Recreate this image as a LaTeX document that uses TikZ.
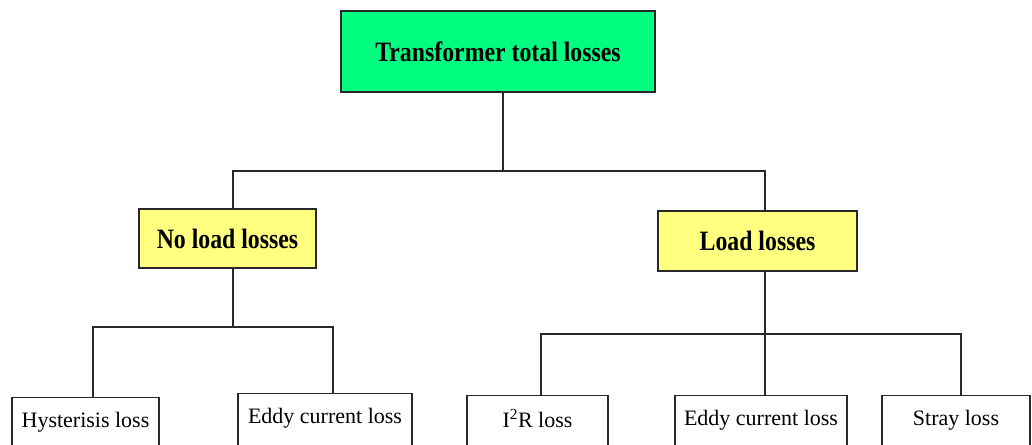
\documentclass[tikz,border=0pt]{standalone}
\usepackage{fontspec}
\setmainfont{Liberation Serif}
\newfontfamily\headfont{Liberation Serif}[FakeStretch=0.85]
\definecolor{boxgreen}{RGB}{0,255,128}
\definecolor{boxyellow}{RGB}{255,255,128}
\definecolor{edge}{RGB}{40,40,40}
\tikzset{
  box/.style={draw=edge, line width=1.3pt, rectangle, inner sep=0pt},
  headbox/.style={box, font=\headfont\bfseries\fontsize{28}{30}\selectfont},
  leafbox/.style={box, fill=white, anchor=north, minimum height=60pt, text depth=15pt, font=\fontsize{22}{24}\selectfont},
  link/.style={draw=edge, line width=1.2pt}
}
\begin{document}
\begin{tikzpicture}[x=1pt,y=-1pt]
\useasboundingbox (0,0) rectangle (1032,444);
\fill[white] (0,0) rectangle (1032,444);
\clip (0,0) rectangle (1032,444);

\node[headbox, fill=boxgreen, minimum width=314pt, minimum height=81pt] (top) at (498,51.5) {Transformer total losses};
\node[headbox, fill=boxyellow, minimum width=177pt, minimum height=59pt] (noload) at (227.5,238.5) {No load losses};
\node[headbox, fill=boxyellow, minimum width=199pt, minimum height=60pt] (load) at (757.5,241) {Load losses};

\node[leafbox, minimum width=147pt] (hyst) at (85.5,397) {Hysterisis loss};
\node[leafbox, minimum width=174pt] (eddyL) at (325,393) {Eddy current loss};
\node[leafbox, minimum width=141pt] (i2r) at (537.5,395) {I\textsuperscript{2}R loss};
\node[leafbox, minimum width=172pt] (eddyR) at (761,395) {Eddy current loss};
\node[leafbox, minimum width=148pt] (stray) at (956,395) {Stray loss};

\coordinate (c0) at (503,171);
\coordinate (c1) at (233,171);
\coordinate (c2) at (765,171);
\coordinate (c3) at (233,327);
\coordinate (c4) at (93,327);
\coordinate (c5) at (333,327);
\coordinate (c6) at (541,334);
\coordinate (c7) at (961,334);

\draw[link] (top.south -| c0) -- (c0);
\draw[link] (noload.north -| c1) -- (c1) -- (c2) -- (load.north -| c2);
\draw[link] (noload.south -| c3) -- (c3);
\draw[link] (hyst.north -| c4) -- (c4) -- (c5) -- (eddyL.north -| c5);
\draw[link] (i2r.north -| c6) -- (c6) -- (c7) -- (stray.north -| c7);
\draw[link] (load.south -| c2) -- (eddyR.north -| c2);
\end{tikzpicture}
\end{document}
